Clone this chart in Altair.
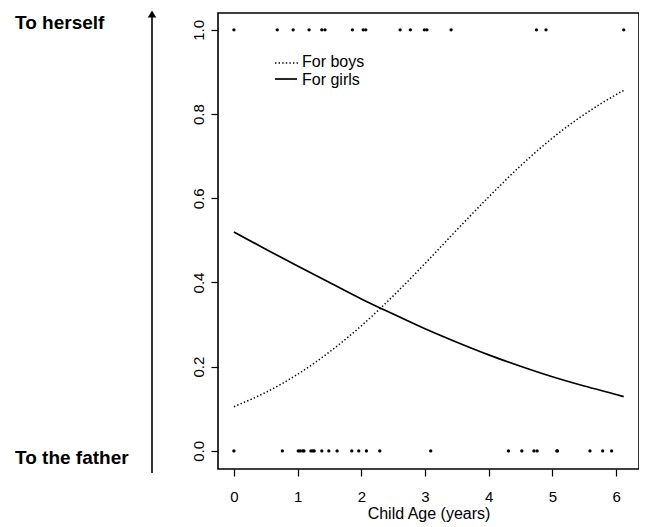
import altair as alt
import pandas as pd

# Observed cases (child age in years) by outcome
ages_herself = [0.0, 0.68, 0.93, 1.18, 1.38, 1.43, 1.86, 2.03, 2.07, 2.61, 2.77,
                2.99, 3.03, 3.41, 4.75, 4.90, 6.12]
ages_father = [0.0, 0.76, 1.01, 1.04, 1.08, 1.10, 1.21, 1.24, 1.26, 1.38, 1.49,
               1.62, 1.85, 1.96, 2.08, 2.29, 3.09, 4.31, 4.52, 4.71, 4.76, 5.07,
               5.08, 5.59, 5.79, 5.93]

# Fitted curves
curve_x = [0.0, 0.5, 1.0, 1.5, 2.0, 2.5, 3.0, 3.5, 4.0, 4.5, 5.0, 5.5, 6.0, 6.12]
boys_y = [0.105, 0.139, 0.182, 0.235, 0.297, 0.368, 0.445, 0.525, 0.603, 0.677,
          0.743, 0.799, 0.846, 0.856]
girls_y = [0.520, 0.479, 0.439, 0.400, 0.361, 0.325, 0.290, 0.258, 0.228, 0.201,
           0.176, 0.154, 0.134, 0.129]

x_ticks = [0, 1, 2, 3, 4, 5, 6]
y_ticks = [0.0, 0.2, 0.4, 0.6, 0.8, 1.0]

FONT = "Liberation Sans"

pts = pd.DataFrame({
    "age": ages_herself + ages_father,
    "outcome": [1.0] * len(ages_herself) + [0.0] * len(ages_father),
})
boys = pd.DataFrame({"age": curve_x, "p": boys_y})
girls = pd.DataFrame({"age": curve_x, "p": girls_y})

xscale = alt.Scale(domain=[-0.25, 6.36], nice=False, zero=False)
yscale = alt.Scale(domain=[-0.043, 1.04], nice=False, zero=False)

xaxis = alt.Axis(values=x_ticks, format="d", title="Child Age (years)", grid=False,
                 domain=False, tickSize=7, tickColor="black", tickWidth=1.2,
                 labelFontSize=15, labelPadding=13, titleFontSize=16,
                 titleFontWeight="normal", titlePadding=1, labelColor="black",
                 titleColor="black", labelFont=FONT, titleFont=FONT)
yaxis = alt.Axis(values=y_ticks, format=".1f", title=None, grid=False, domain=False,
                 tickSize=7, tickColor="black", tickWidth=1.2, labelFontSize=15,
                 labelAngle=-90, labelAlign="center", labelBaseline="bottom",
                 labelPadding=5, labelColor="black", labelFont=FONT)

points = alt.Chart(pts).mark_circle(size=11, color="black", opacity=1).encode(
    x=alt.X("age:Q", scale=xscale, axis=xaxis),
    y=alt.Y("outcome:Q", scale=yscale, axis=yaxis),
)

boys_line = alt.Chart(boys).mark_line(color="black", strokeWidth=1.5,
                                      strokeDash=[1.4, 2.2], interpolate="monotone").encode(
    x=alt.X("age:Q", scale=xscale, axis=xaxis), y=alt.Y("p:Q", scale=yscale, axis=yaxis))
girls_line = alt.Chart(girls).mark_line(color="black", strokeWidth=1.7,
                                        interpolate="monotone").encode(
    x=alt.X("age:Q", scale=xscale, axis=xaxis), y=alt.Y("p:Q", scale=yscale, axis=yaxis))

# Legend
leg_boys = alt.Chart().mark_rule(color="black", strokeWidth=1.5, strokeDash=[1.4, 2.2]).encode(
    x=alt.value(57), x2=alt.value(80), y=alt.value(50))
leg_girls = alt.Chart().mark_rule(color="black", strokeWidth=1.7).encode(
    x=alt.value(57), x2=alt.value(79), y=alt.value(66))
leg_txt1 = alt.Chart().mark_text(align="left", baseline="middle", fontSize=16, font=FONT,
                                 color="black").encode(
    x=alt.value(84), y=alt.value(49), text=alt.value("For boys"))
leg_txt2 = alt.Chart().mark_text(align="left", baseline="middle", fontSize=16, font=FONT,
                                 color="black").encode(
    x=alt.value(84), y=alt.value(67), text=alt.value("For girls"))

# Left annotations and arrow
lab_top = alt.Chart().mark_text(align="left", baseline="alphabetic", fontSize=19,
                                fontWeight="bold", font=FONT, color="black").encode(
    x=alt.value(-203), y=alt.value(16), text=alt.value("To herself"))
lab_bot = alt.Chart().mark_text(align="left", baseline="alphabetic", fontSize=19,
                                fontWeight="bold", font=FONT, color="black").encode(
    x=alt.value(-203), y=alt.value(451), text=alt.value("To the father"))
arrow_line = alt.Chart().mark_rule(color="black", strokeWidth=1.6).encode(
    x=alt.value(-66), y=alt.value(2), y2=alt.value(460))
arrow_head = alt.Chart().mark_point(shape="triangle-up", filled=True, size=70,
                                    color="black", opacity=1).encode(
    x=alt.value(-66), y=alt.value(1))

chart = alt.layer(
    points, boys_line, girls_line, leg_boys, leg_girls, leg_txt1, leg_txt2,
    lab_top, lab_bot, arrow_line, arrow_head
).properties(
    width=421, height=456,
    autosize=alt.AutoSizeParams(type="none"),
    padding={"left": 210, "top": 5, "right": 0, "bottom": 55},
).configure(
    font=FONT
).configure_view(
    stroke="black", strokeWidth=1.6
)

chart.save("out.html", embed_options={"renderer": "svg", "actions": False})
